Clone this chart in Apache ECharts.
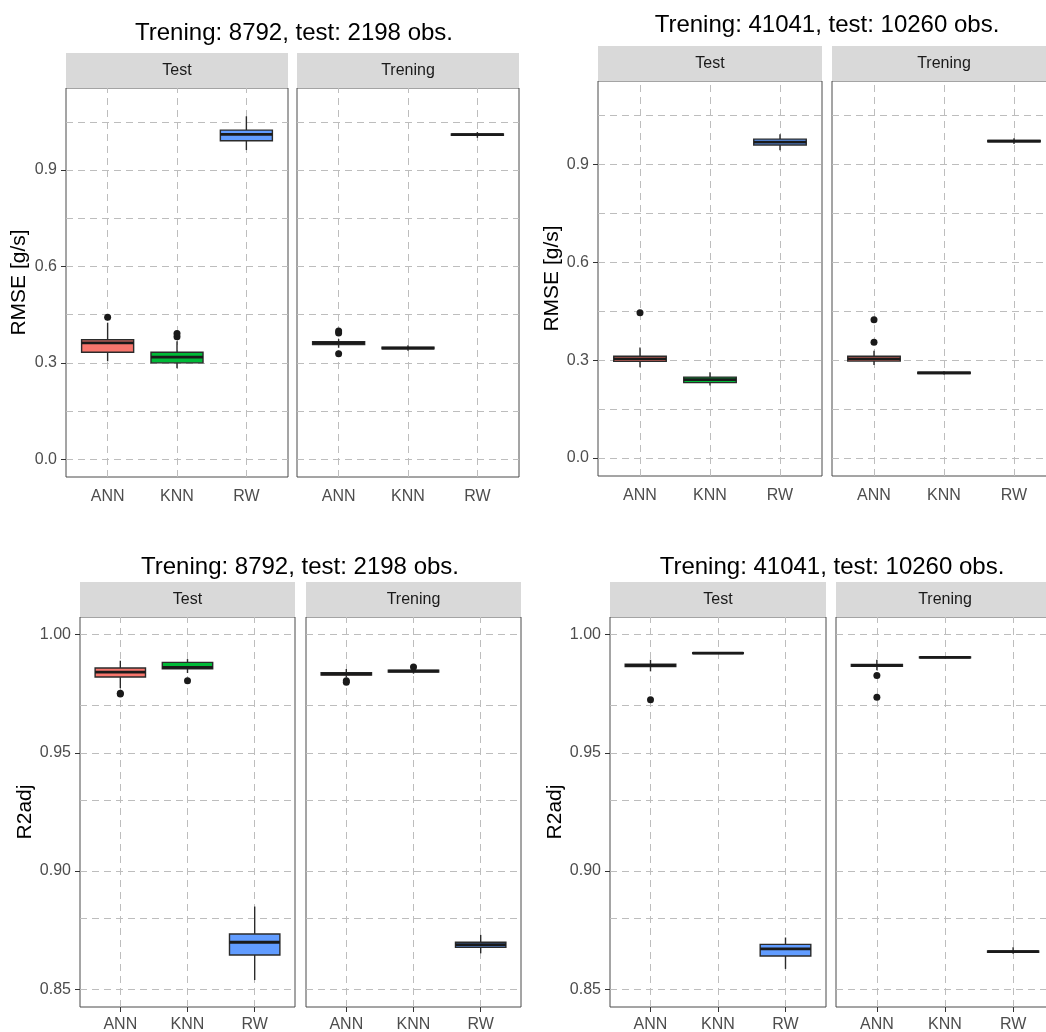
<!DOCTYPE html>
<html>
<head>
<meta charset="utf-8">
<script src="https://cdn.jsdelivr.net/npm/echarts@6/dist/echarts.min.js"></script>
<style>
  html, body { margin: 0; padding: 0; background: #ffffff; }
  #chart { width: 1046px; height: 1032px; }
</style>
</head>
<body>
<div id="chart"></div>
<script>
// ---------------- data ----------------
const categories = ['ANN', 'KNN', 'RW'];
const facetNames = ['Test', 'Trening'];
const titleTexts = [
  'Trening: 8792, test: 2198 obs.',
  'Trening: 41041, test: 10260 obs.',
  'Trening: 8792, test: 2198 obs.',
  'Trening: 41041, test: 10260 obs.'
];
const yTitles = ['RMSE [g/s]', 'RMSE [g/s]', 'R2adj', 'R2adj'];

const rmseTicks = [0, 0.3, 0.6, 0.9];
const rmseGridValues = [0, 0.15, 0.3, 0.45, 0.6, 0.75, 0.9, 1.05];
const r2Ticks = [0.85, 0.90, 0.95, 1.00];
const r2GridValues = [0.85, 0.875, 0.90, 0.925, 0.95, 0.975, 1.00];

// five-number summaries [min, q1, median, q3, max] for ANN, KNN, RW
const rmse8792Test = [
  [0.305, 0.333, 0.362, 0.372, 0.425],
  [0.283, 0.300, 0.318, 0.333, 0.367],
  [0.962, 0.991, 1.011, 1.024, 1.067]
];
const rmse8792TestOut = [[1, 0.442], [2, 0.381], [2, 0.391]];
const rmse8792Train = [
  [0.347, 0.357, 0.362, 0.366, 0.374],
  [0.338, 0.344, 0.346, 0.349, 0.355],
  [1.000, 1.008, 1.010, 1.012, 1.018]
];
const rmse8792TrainOut = [[1, 0.328], [1, 0.393], [1, 0.399]];

const rmse41041Test = [
  [0.278, 0.296, 0.304, 0.312, 0.339],
  [0.222, 0.231, 0.240, 0.248, 0.263],
  [0.943, 0.959, 0.968, 0.977, 0.992]
];
const rmse41041TestOut = [[1, 0.445]];
const rmse41041Train = [
  [0.285, 0.297, 0.304, 0.312, 0.329],
  [0.256, 0.259, 0.261, 0.263, 0.266],
  [0.962, 0.969, 0.971, 0.973, 0.980]
];
const rmse41041TrainOut = [[1, 0.355], [1, 0.424]];

const r2_8792Test = [
  [0.9774, 0.9821, 0.9842, 0.9859, 0.9890],
  [0.9838, 0.9856, 0.9862, 0.9883, 0.9897],
  [0.8539, 0.8645, 0.8699, 0.8734, 0.8850]
];
const r2_8792TestOut = [[1, 0.9749], [1, 0.9752], [2, 0.9805]];
const r2_8792Train = [
  [0.9820, 0.9829, 0.9834, 0.9839, 0.9855],
  [0.9835, 0.9842, 0.9846, 0.9850, 0.9858],
  [0.8652, 0.8678, 0.8689, 0.8699, 0.8730]
];
const r2_8792TrainOut = [[1, 0.9799], [1, 0.9805], [2, 0.9863]];

const r2_41041Test = [
  [0.9845, 0.9865, 0.9870, 0.9875, 0.9894],
  [0.9918, 0.9920, 0.9922, 0.9924, 0.9926],
  [0.8586, 0.8641, 0.8671, 0.8690, 0.8719]
];
const r2_41041TestOut = [[1, 0.9725]];
const r2_41041Train = [
  [0.9850, 0.9866, 0.9870, 0.9874, 0.9894],
  [0.9900, 0.9902, 0.9904, 0.9906, 0.9908],
  [0.8650, 0.8656, 0.8659, 0.8662, 0.8678]
];
const r2_41041TrainOut = [[1, 0.9828], [1, 0.9735]];

// ---------------- styling / layout ----------------
const fillColors = ['#F8766D', '#00BA38', '#619CFF'];
const FONT = 'Liberation Sans, Arial, sans-serif';
const STRIP_H = 35;

const panels = [
  { box: rmse8792Test,  out: rmse8792TestOut,  q: 0, f: 0, left: 66,  top: 88,  width: 222, height: 389 },
  { box: rmse8792Train, out: rmse8792TrainOut, q: 0, f: 1, left: 297, top: 88,  width: 222, height: 389 },
  { box: rmse41041Test, out: rmse41041TestOut, q: 1, f: 0, left: 598, top: 81,  width: 224, height: 395 },
  { box: rmse41041Train,out: rmse41041TrainOut,q: 1, f: 1, left: 832, top: 81,  width: 224, height: 395 },
  { box: r2_8792Test,   out: r2_8792TestOut,   q: 2, f: 0, left: 80,  top: 617, width: 215, height: 390 },
  { box: r2_8792Train,  out: r2_8792TrainOut,  q: 2, f: 1, left: 306, top: 617, width: 215, height: 390 },
  { box: r2_41041Test,  out: r2_41041TestOut,  q: 3, f: 0, left: 610, top: 617, width: 216, height: 390 },
  { box: r2_41041Train, out: r2_41041TrainOut, q: 3, f: 1, left: 836, top: 617, width: 218, height: 390 }
];
const quadrants = [
  { titleX: 294, titleY: 33, yMin: -0.055, yMax: 1.155, ticks: rmseTicks, gridVals: rmseGridValues, dec: 1, nameGap: 36, xMargin: 12 },
  { titleX: 827, titleY: 25, yMin: -0.055, yMax: 1.155, ticks: rmseTicks, gridVals: rmseGridValues, dec: 1, nameGap: 34, xMargin: 12 },
  { titleX: 300, titleY: 567, yMin: 0.8425, yMax: 1.0075, ticks: r2Ticks, gridVals: r2GridValues, dec: 2, nameGap: 44, xMargin: 10 },
  { titleX: 832, titleY: 567, yMin: 0.8425, yMax: 1.0075, ticks: r2Ticks, gridVals: r2GridValues, dec: 2, nameGap: 44, xMargin: 10 }
];

function renderBox(params, api) {
  const x = api.value(0);
  const lo = api.value(1), q1 = api.value(2), md = api.value(3), q3 = api.value(4), hi = api.value(5);
  const ci = api.value(6);
  const h = 0.375;
  const a = api.coord([x - h, q3]);
  const b = api.coord([x + h, q1]);
  const pTop = api.coord([x, hi]);
  const pQ3 = api.coord([x, q3]);
  const pQ1 = api.coord([x, q1]);
  const pBot = api.coord([x, lo]);
  const ml = api.coord([x - h, md]);
  const mr = api.coord([x + h, md]);
  const stroke = '#2b2b2b';
  return {
    type: 'group',
    children: [
      { type: 'line', shape: { x1: pTop[0], y1: pTop[1], x2: pQ3[0], y2: pQ3[1] }, style: { stroke: stroke, lineWidth: 1.4 } },
      { type: 'line', shape: { x1: pQ1[0], y1: pQ1[1], x2: pBot[0], y2: pBot[1] }, style: { stroke: stroke, lineWidth: 1.4 } },
      { type: 'rect', shape: { x: a[0], y: a[1], width: b[0] - a[0], height: b[1] - a[1] }, style: { fill: fillColors[ci], stroke: stroke, lineWidth: 1.4 } },
      { type: 'line', shape: { x1: ml[0], y1: ml[1], x2: mr[0], y2: mr[1] }, style: { stroke: '#1a1a1a', lineWidth: 2.8 } }
    ]
  };
}

const grids = [], xAxes = [], yAxes = [], series = [], graphics = [];

panels.forEach(function (p, g) {
  const qd = quadrants[p.q];
  grids.push({
    left: p.left, top: p.top, width: p.width, height: p.height,
    containLabel: false, outerBoundsMode: 'none',
    show: true, backgroundColor: '#ffffff', borderColor: '#4a4a4a', borderWidth: 1
  });
  xAxes.push({
    type: 'value', gridIndex: g, min: 0.4, max: 3.6,
    axisLine: { show: false },
    splitLine: { show: false },
    axisTick: { show: true, customValues: [1, 2, 3], length: 5, lineStyle: { color: '#333333', width: 1 } },
    axisLabel: {
      customValues: [1, 2, 3],
      formatter: function (v) { return categories[Math.round(v) - 1]; },
      color: '#4d4d4d', fontSize: 16, fontFamily: FONT, margin: qd.xMargin
    }
  });
  yAxes.push({
    type: 'value', gridIndex: g, min: qd.yMin, max: qd.yMax,
    axisLine: { show: false },
    splitLine: { show: false },
    axisTick: { show: p.f === 0, customValues: qd.ticks, length: 5, lineStyle: { color: '#333333', width: 1 } },
    axisLabel: {
      show: p.f === 0,
      customValues: qd.ticks,
      formatter: function (v) { return v.toFixed(qd.dec); },
      color: '#4d4d4d', fontSize: 16, fontFamily: FONT, margin: 9
    },
    name: p.f === 0 ? yTitles[p.q] : '',
    nameLocation: 'middle', nameGap: qd.nameGap, nameRotate: 90,
    nameTextStyle: { color: '#000000', fontSize: 21, fontFamily: FONT }
  });
  // boxes
  series.push({
    type: 'custom', xAxisIndex: g, yAxisIndex: g, z: 3,
    renderItem: renderBox,
    encode: { x: 0, y: [1, 2, 3, 4, 5] },
    data: p.box.map(function (b, i) { return [i + 1].concat(b).concat([i]); }),
    animation: false, silent: true
  });
  // outliers + dashed grid lines
  const mlData = qd.gridVals.map(function (v) { return { yAxis: v }; })
    .concat([1, 2, 3].map(function (v) { return { xAxis: v }; }));
  series.push({
    type: 'scatter', xAxisIndex: g, yAxisIndex: g, z: 4,
    symbol: 'circle', symbolSize: 7,
    itemStyle: { color: '#1a1a1a', opacity: 1 },
    data: p.out,
    animation: false, silent: true,
    markLine: {
      z: 1, silent: true, animation: false, symbol: ['none', 'none'],
      label: { show: false },
      lineStyle: { color: '#bdbdbd', type: [7, 5], width: 1 },
      emphasis: { disabled: true },
      data: mlData
    }
  });
  // facet strip
  graphics.push({
    type: 'rect', silent: true,
    shape: { x: p.left, y: p.top - STRIP_H, width: p.width, height: STRIP_H },
    style: { fill: '#d9d9d9' }
  });
  graphics.push({
    type: 'text', silent: true,
    x: p.left + p.width / 2, y: p.top - STRIP_H / 2,
    style: { text: facetNames[p.f], fill: '#1a1a1a', font: '16px ' + FONT, textAlign: 'center', textVerticalAlign: 'middle' }
  });
});

quadrants.forEach(function (qd, i) {
  graphics.push({
    type: 'text', silent: true,
    x: qd.titleX, y: qd.titleY,
    style: { text: titleTexts[i], fill: '#000000', font: '24px ' + FONT, textAlign: 'center', textVerticalAlign: 'middle' }
  });
});

const chart = echarts.init(document.getElementById('chart'), null, { renderer: 'canvas' });
chart.setOption({
  backgroundColor: '#ffffff',
  animation: false,
  grid: grids,
  xAxis: xAxes,
  yAxis: yAxes,
  series: series,
  graphic: graphics
});
</script>
</body>
</html>
